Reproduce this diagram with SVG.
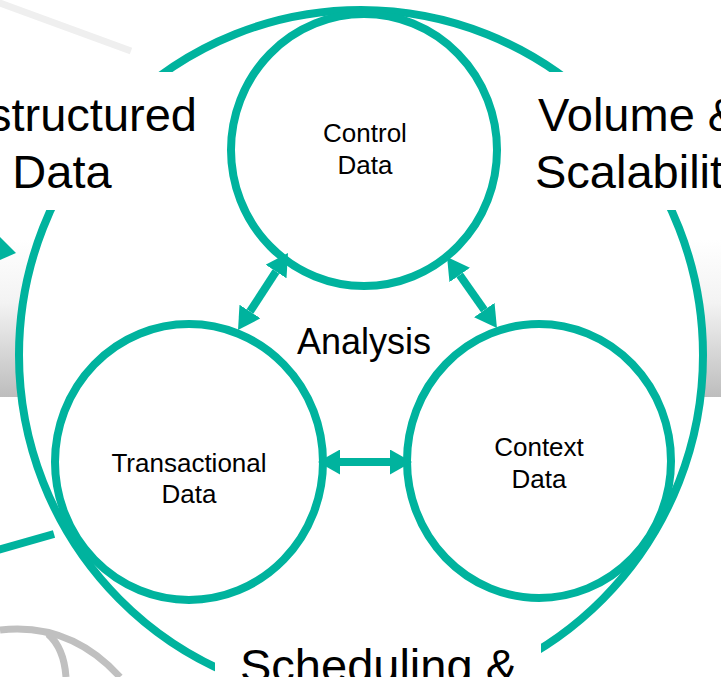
<svg xmlns="http://www.w3.org/2000/svg" width="721" height="677" viewBox="0 0 721 677">
  <defs>
    <linearGradient id="band" x1="0" y1="0" x2="0" y2="1">
      <stop offset="0" stop-color="#ffffff"/>
      <stop offset="0.4" stop-color="#f3f3f3"/>
      <stop offset="1" stop-color="#bdbdbd"/>
    </linearGradient>
    <marker id="ah" viewBox="0 0 22 25" refX="0" refY="12.5" markerWidth="22" markerHeight="25" markerUnits="userSpaceOnUse" orient="auto-start-reverse">
      <path d="M0,0 L22,12.5 L0,25 Z" fill="#00b39e"/>
    </marker>
    <style>
      .teal { fill: none; stroke: #00b39e; stroke-width: 8; }
      .node { fill: #ffffff; stroke: #00b39e; stroke-width: 8; }
      .big { font-family: "Liberation Sans", Arial, sans-serif; font-size: 47px; fill: #000; }
      .small { font-family: "Liberation Sans", Arial, sans-serif; font-size: 26px; fill: #000; text-anchor: middle; }
      .mid { font-family: "Liberation Sans", Arial, sans-serif; font-size: 36px; fill: #000; text-anchor: middle; }
      .gray { fill: none; stroke: #c0c0c0; stroke-width: 7; }
      .conn { stroke: #00b39e; stroke-width: 8; fill: none; marker-start: url(#ah); marker-end: url(#ah); }
    </style>
  </defs>

  <rect x="0" y="0" width="721" height="677" fill="#ffffff"/>

  <g id="background">
    <rect x="0" y="240" width="721" height="157" fill="url(#band)"/>
    <line x1="-3" y1="2" x2="131" y2="51" stroke="#efefef" stroke-width="7"/>
    <polygon points="0,237 16,253 0,260" fill="#00b39e"/>
    <line x1="-2" y1="550" x2="54" y2="534" class="teal"/>
    <path d="M0,630 Q70,622 120,677" class="gray"/>
    <path d="M48,634 Q64,648 66,677" class="gray"/>
  </g>

  <g id="outer-cycle">
    <ellipse cx="361" cy="355" rx="342" ry="345" fill="#ffffff" stroke="#00b39e" stroke-width="8"/>
    <rect x="0" y="72" width="215" height="138" fill="#ffffff"/>
    <rect x="505" y="72" width="216" height="138" fill="#ffffff"/>
    <rect x="215" y="628" width="326" height="49" fill="#ffffff"/>
  </g>

  <g id="node-control">
    <ellipse cx="364" cy="150" rx="133" ry="136" class="node"/>
    <text class="small" x="365" y="142">Control</text>
    <text class="small" x="365" y="174">Data</text>
  </g>

  <g id="node-transactional">
    <ellipse cx="189" cy="462" rx="134" ry="138" class="node"/>
    <text class="small" x="189" y="472">Transactional</text>
    <text class="small" x="189" y="503">Data</text>
  </g>

  <g id="node-context">
    <ellipse cx="539" cy="461" rx="132" ry="137" class="node"/>
    <text class="small" x="539" y="456">Context</text>
    <text class="small" x="539" y="488">Data</text>
  </g>

  <g id="connectors">
    <line x1="276" y1="271.5" x2="250" y2="311.5" class="conn"/>
    <line x1="459.7" y1="275" x2="484.3" y2="310" class="conn"/>
    <line x1="340" y1="462" x2="390" y2="462" class="conn"/>
  </g>

  <g id="labels">
    <text class="big" x="197" y="131" text-anchor="end">structured</text>
    <text class="big" x="62" y="188" text-anchor="middle">Data</text>
    <text class="big" x="538" y="131">Volume &amp;</text>
    <text class="big" x="535" y="188">Scalabilit</text>
    <text class="big" x="240" y="682">Scheduling &amp;</text>
    <text class="mid" x="364" y="354">Analysis</text>
  </g>
</svg>
